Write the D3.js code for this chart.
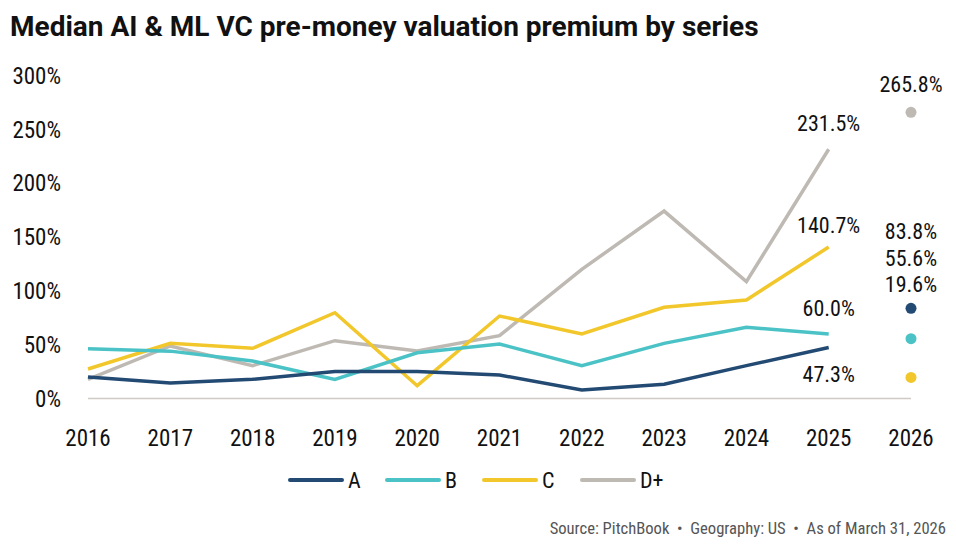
<!DOCTYPE html>
<html>
<head>
<meta charset="utf-8">
<script src="https://cdn.jsdelivr.net/npm/d3@7"></script>
<style>
  body { margin: 0; background: #fff; }
  text { font-family: "Roboto Condensed", Roboto, sans-serif; font-stretch: 75%; }
</style>
</head>
<body>
<script>
// series values
var years = [2016, 2017, 2018, 2019, 2020, 2021, 2022, 2023, 2024, 2025];
var seriesA = [20.0, 14.4, 17.8, 25.0, 25.0, 21.8, 7.9, 13.2, 30.5, 47.3];
var seriesB = [46.3, 44.0, 34.8, 17.8, 42.5, 50.6, 30.5, 51.2, 66.1, 60.0];
var seriesC = [27.4, 51.2, 46.6, 79.7, 11.9, 76.6, 59.9, 84.7, 91.5, 140.7];
var seriesD = [17.8, 48.8, 30.5, 53.7, 44.1, 58.3, 120.0, 174.1, 108.5, 231.5];
var names = ["A", "B", "C", "D+"];
var colors = ["#234a73", "#4bc3c6", "#f2c72b", "#bebab3"];
var dots2026 = [83.8, 55.6, 19.6, 265.8];
var xTicks = [2016, 2017, 2018, 2019, 2020, 2021, 2022, 2023, 2024, 2025, 2026];
var yTicks = [0, 50, 100, 150, 200, 250, 300];

var width = 956, height = 548;
var svg = d3.select("body").append("svg").attr("width", width).attr("height", height);

var x = d3.scalePoint().domain(xTicks).range([88, 911]);
var y = d3.scaleLinear().domain([0, 300]).range([398.5, 75.5]);

svg.append("text")
    .attr("x", 10).attr("y", 36)
    .style("font-family", "Roboto, sans-serif")
    .style("font-size", "28px").style("font-weight", "bold").style("font-stretch", "100%")
    .style("fill", "#111")
    .text("Median AI & ML VC pre-money valuation premium by series");

// y labels
svg.selectAll(".ylab").data(yTicks).enter().append("text")
    .attr("x", 61).attr("y", function(d) { return y(d); })
    .attr("dy", "0.36em").attr("text-anchor", "end")
    .style("font-size", "23px").style("fill", "#111")
    .text(function(d) { return d + "%"; });

// baseline
svg.append("line")
    .attr("x1", x(2016)).attr("x2", x(2026))
    .attr("y1", y(0)).attr("y2", y(0))
    .style("stroke", "#cfcbc4").style("stroke-width", 1.5);

// x labels
svg.selectAll(".xlab").data(xTicks).enter().append("text")
    .attr("x", function(d) { return x(d); }).attr("y", 446)
    .attr("text-anchor", "middle")
    .style("font-size", "23px").style("fill", "#111")
    .text(function(d) { return d; });

var all = [seriesA, seriesB, seriesC, seriesD];
var line = d3.line()
    .x(function(d, i) { return x(years[i]); })
    .y(function(d) { return y(d); });

var order = [3, 2, 1, 0];
for (var k = 0; k < order.length; k++) {
    var s = order[k];
    svg.append("path")
        .attr("d", line(all[s]))
        .style("fill", "none")
        .style("stroke", colors[s])
        .style("stroke-width", 3.5)
        .style("stroke-linejoin", "miter");
}

// 2026 dots
for (var s = 0; s < 4; s++) {
    svg.append("circle")
        .attr("cx", x(2026)).attr("cy", y(dots2026[s]))
        .attr("r", 5.5)
        .style("fill", colors[s]);
}

// value labels
function label(xv, yv, txt) {
    svg.append("text")
        .attr("x", xv).attr("y", yv).attr("dy", "0.36em")
        .attr("text-anchor", "middle")
        .style("font-size", "22px").style("fill", "#111")
        .text(txt);
}
var last = years.length - 1;
label(x(2025), y(seriesD[last]) - 26, seriesD[last].toFixed(1) + "%");
label(x(2025), y(seriesC[last]) - 22, seriesC[last].toFixed(1) + "%");
label(x(2025), y(seriesB[last]) - 26, seriesB[last].toFixed(1) + "%");
label(x(2025), y(seriesA[last]) + 27, seriesA[last].toFixed(1) + "%");
label(x(2026), y(dots2026[3]) - 28, dots2026[3].toFixed(1) + "%");
var topDot = y(dots2026[0]);
label(x(2026), topDot - 77, dots2026[0].toFixed(1) + "%");
label(x(2026), topDot - 50, dots2026[1].toFixed(1) + "%");
label(x(2026), topDot - 24, dots2026[2].toFixed(1) + "%");

// legend
var legX = [290, 387, 484, 582];
for (var s = 0; s < 4; s++) {
    svg.append("line")
        .attr("x1", legX[s]).attr("x2", legX[s] + 52)
        .attr("y1", 480).attr("y2", 480)
        .style("stroke", colors[s]).style("stroke-width", 4)
        .style("stroke-linecap", "round");
    svg.append("text")
        .attr("x", legX[s] + 58).attr("y", 480).attr("dy", "0.36em")
        .style("font-size", "22px").style("fill", "#111")
        .text(names[s]);
}

svg.append("text")
    .attr("x", 946).attr("y", 528).attr("dy", "0.36em")
    .attr("text-anchor", "end")
    .attr("xml:space", "preserve")
    .style("white-space", "pre")
    .style("font-size", "16.6px").style("fill", "#555")
    .text("Source: PitchBook  \u2022  Geography: US  \u2022  As of March 31, 2026");
</script>
</body>
</html>
